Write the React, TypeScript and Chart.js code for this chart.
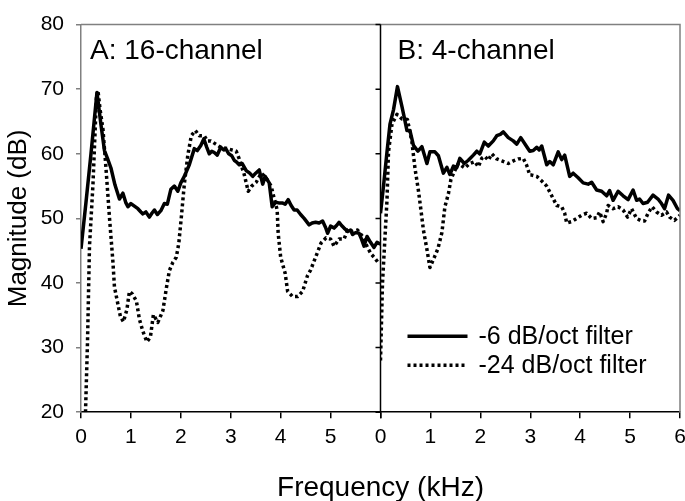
import React, { useEffect, useRef } from 'react';
import { Chart, registerables } from 'chart.js';

Chart.register(...registerables);

const FONT = '"Liberation Sans", Arial, Helvetica, sans-serif';

const xTitle = 'Frequency (kHz)';
const yTitle = 'Magnitude (dB)';
const panelALabel = 'A: 16-channel';
const panelBLabel = 'B: 4-channel';
const seriesNames = ['-6 dB/oct filter', '-24 dB/oct filter'];

// Panel A (16-channel), -6 dB/oct
const freqA6 = [0, 0.1, 0.2, 0.32, 0.4, 0.47, 0.53, 0.6, 0.68, 0.77, 0.84, 0.9, 0.94, 1.0, 1.07, 1.14, 1.2, 1.24, 1.3, 1.37, 1.42, 1.47, 1.53, 1.6, 1.67, 1.73, 1.8, 1.87, 1.94, 2.0, 2.07, 2.17, 2.27, 2.33, 2.4, 2.46, 2.52, 2.57, 2.62, 2.67, 2.73, 2.8, 2.86, 2.9, 2.96, 3.02, 3.07, 3.12, 3.17, 3.23, 3.31, 3.38, 3.44, 3.5, 3.57, 3.64, 3.69, 3.77, 3.83, 3.9, 3.96, 4.03, 4.09, 4.15, 4.21, 4.27, 4.33, 4.4, 4.47, 4.57, 4.63, 4.7, 4.77, 4.84, 4.9, 4.94, 5.0, 5.07, 5.12, 5.17, 5.22, 5.27, 5.34, 5.4, 5.44, 5.5, 5.57, 5.62, 5.67, 5.73, 5.8, 5.87, 5.93, 6.0];
const magA6 = [45.3, 52.5, 60.0, 69.5, 64.5, 60.5, 59.3, 57.8, 55.2, 53.0, 53.9, 52.4, 51.8, 52.3, 51.9, 51.5, 51.0, 50.7, 51.0, 50.2, 50.8, 51.3, 50.6, 51.2, 52.3, 52.2, 54.5, 55.0, 54.2, 55.5, 56.5, 58.3, 60.8, 60.5, 61.3, 62.3, 61.0, 60.0, 60.4, 60.2, 59.8, 61.0, 60.6, 60.8, 60.0, 59.7, 59.0, 58.7, 58.3, 58.5, 57.4, 57.0, 56.5, 57.0, 57.5, 55.3, 56.5, 55.5, 51.8, 52.5, 52.4, 52.4, 52.2, 52.9, 52.0, 51.3, 51.3, 50.6, 50.0, 49.0, 49.3, 49.4, 49.3, 49.6, 48.6, 47.7, 48.8, 48.5, 48.9, 49.4, 48.9, 48.5, 48.0, 48.2, 47.5, 47.8, 47.7, 46.8, 45.7, 47.2, 46.3, 45.5, 46.3, 46.0];

// Panel A (16-channel), -24 dB/oct
const freqA24 = [0.09, 0.13, 0.17, 0.24, 0.31, 0.34, 0.38, 0.44, 0.5, 0.57, 0.64, 0.67, 0.74, 0.79, 0.85, 0.92, 0.97, 1.03, 1.11, 1.17, 1.24, 1.32, 1.39, 1.45, 1.54, 1.64, 1.71, 1.77, 1.84, 1.91, 1.96, 2.01, 2.07, 2.14, 2.21, 2.29, 2.37, 2.47, 2.53, 2.6, 2.7, 2.8, 2.93, 3.02, 3.11, 3.17, 3.27, 3.35, 3.42, 3.51, 3.61, 3.68, 3.73, 3.81, 3.86, 3.93, 3.95, 4.0, 4.09, 4.14, 4.24, 4.34, 4.44, 4.54, 4.6, 4.71, 4.81, 4.91, 5.0, 5.07, 5.17, 5.27, 5.34, 5.44, 5.54, 5.64, 5.74, 5.81, 5.87, 5.97];
const magA24 = [20.0, 30.8, 45.7, 55.3, 68.8, 69.8, 67.0, 63.8, 57.8, 50.2, 43.2, 39.4, 36.7, 34.8, 34.0, 35.9, 38.7, 38.3, 37.2, 34.4, 32.5, 30.9, 31.6, 35.1, 33.9, 35.7, 39.2, 41.9, 43.2, 44.0, 46.2, 50.2, 55.3, 59.8, 62.8, 63.6, 62.8, 62.8, 62.0, 62.0, 61.5, 61.0, 60.8, 60.6, 60.4, 59.2, 56.8, 54.2, 55.0, 55.6, 57.0, 56.5, 56.0, 55.0, 53.4, 51.3, 47.7, 44.0, 41.5, 38.7, 37.9, 37.9, 38.7, 41.2, 42.0, 44.2, 46.2, 47.0, 46.8, 45.7, 46.8, 46.8, 48.2, 48.0, 48.2, 47.2, 45.5, 44.5, 44.0, 43.0];

// Panel B (4-channel), -6 dB/oct
const freqB6 = [0, 0.06, 0.13, 0.19, 0.26, 0.34, 0.43, 0.48, 0.53, 0.59, 0.66, 0.75, 0.83, 0.93, 0.99, 1.09, 1.16, 1.26, 1.33, 1.39, 1.46, 1.53, 1.59, 1.68, 1.76, 1.86, 1.93, 1.99, 2.08, 2.16, 2.26, 2.33, 2.4, 2.46, 2.56, 2.66, 2.73, 2.81, 2.93, 2.99, 3.06, 3.13, 3.18, 3.23, 3.33, 3.39, 3.46, 3.56, 3.63, 3.69, 3.79, 3.86, 3.96, 4.06, 4.16, 4.23, 4.33, 4.43, 4.53, 4.59, 4.66, 4.76, 4.86, 4.96, 5.06, 5.13, 5.19, 5.26, 5.35, 5.46, 5.56, 5.63, 5.69, 5.77, 5.86, 5.95, 6.0];
const magB6 = [50.8, 55.0, 60.3, 64.6, 66.8, 70.4, 67.3, 65.5, 63.6, 63.6, 61.3, 60.4, 61.1, 58.5, 60.3, 60.3, 59.7, 57.0, 57.9, 56.8, 58.1, 57.9, 59.3, 58.5, 59.0, 59.8, 60.4, 60.0, 61.8, 61.2, 62.0, 62.8, 63.0, 63.4, 62.5, 62.0, 61.5, 62.5, 61.1, 60.4, 60.5, 61.0, 60.6, 61.2, 58.3, 58.8, 58.3, 60.3, 59.1, 59.8, 56.5, 57.0, 56.3, 55.5, 55.3, 55.6, 54.4, 54.2, 53.5, 54.3, 52.8, 54.2, 53.5, 52.9, 54.4, 52.8, 53.0, 52.3, 52.5, 53.6, 53.0, 52.3, 51.5, 53.6, 52.8, 51.5, 51.2];

// Panel B (4-channel), -24 dB/oct
const freqB24 = [0, 0.04, 0.13, 0.16, 0.23, 0.33, 0.43, 0.54, 0.63, 0.69, 0.76, 0.81, 0.86, 0.93, 0.99, 1.08, 1.15, 1.23, 1.29, 1.36, 1.41, 1.47, 1.56, 1.69, 1.79, 1.89, 1.96, 2.03, 2.09, 2.16, 2.23, 2.33, 2.43, 2.56, 2.66, 2.76, 2.86, 2.93, 2.99, 3.03, 3.13, 3.23, 3.33, 3.43, 3.53, 3.63, 3.69, 3.73, 3.83, 3.93, 4.03, 4.13, 4.23, 4.33, 4.39, 4.46, 4.53, 4.56, 4.66, 4.76, 4.86, 4.95, 5.03, 5.13, 5.23, 5.29, 5.36, 5.44, 5.53, 5.63, 5.73, 5.79, 5.89, 5.96, 6.0];
const magB24 = [28.0, 40.0, 52.8, 60.3, 64.6, 66.1, 65.4, 65.3, 61.8, 57.8, 54.3, 51.3, 48.2, 45.2, 42.4, 44.0, 45.3, 47.8, 51.8, 53.8, 56.0, 57.1, 58.5, 57.8, 58.5, 58.8, 58.0, 59.3, 59.6, 59.0, 60.0, 59.2, 58.9, 58.5, 58.9, 59.2, 59.3, 58.2, 56.7, 56.7, 56.5, 55.8, 55.0, 53.5, 52.0, 51.8, 50.8, 49.3, 49.5, 50.0, 50.5, 50.8, 50.0, 50.1, 51.0, 49.5, 50.8, 52.0, 51.5, 51.8, 51.3, 50.2, 51.5, 50.0, 49.6, 49.6, 50.8, 51.8, 51.0, 50.5, 51.0, 50.2, 49.7, 50.2, 50.5];

const toPoints = (xs: number[], ys: number[]) => xs.map((x, i) => ({ x, y: ys[i] }));

const SOLID = { borderColor: '#000', borderWidth: 3.5, borderDash: [] as number[] };
const DOTTED = { borderColor: '#000', borderWidth: 3.5, borderDash: [3, 3] };

const panelPlugin = {
  id: 'panelDecor',
  afterDraw(chart: any) {
    const { ctx, chartArea } = chart;
    const xA = chart.scales.xA;
    const xB = chart.scales.xB;
    const y = chart.scales.y;
    const top = chartArea.top;
    const bottom = chartArea.bottom;
    ctx.save();
    // frame (top and right)
    ctx.strokeStyle = '#808080';
    ctx.lineWidth = 1.5;
    ctx.beginPath();
    ctx.moveTo(xA.left, top);
    ctx.lineTo(xB.right, top);
    ctx.lineTo(xB.right, bottom);
    ctx.stroke();
    // divider between panels with outward ticks
    ctx.strokeStyle = '#000';
    ctx.lineWidth = 1.5;
    ctx.beginPath();
    ctx.moveTo(xB.left, top);
    ctx.lineTo(xB.left, bottom);
    y.ticks.forEach((t: any) => {
      const py = y.getPixelForValue(t.value);
      ctx.moveTo(xB.left - 5, py);
      ctx.lineTo(xB.left, py);
    });
    ctx.stroke();
    // panel labels
    ctx.fillStyle = '#000';
    ctx.font = `28px ${FONT}`;
    ctx.textBaseline = 'alphabetic';
    ctx.textAlign = 'left';
    ctx.fillText(panelALabel, xA.left + 9, top + 34);
    ctx.fillText(panelBLabel, xB.left + 17, top + 34);
    // legend
    const styles = [SOLID, DOTTED];
    const rows = [bottom - 76, bottom - 47];
    ctx.font = `25px ${FONT}`;
    ctx.textBaseline = 'middle';
    styles.forEach((s, i) => {
      ctx.strokeStyle = s.borderColor;
      ctx.lineWidth = s.borderWidth;
      ctx.setLineDash(s.borderDash);
      ctx.beginPath();
      ctx.moveTo(xB.left + 27, rows[i]);
      ctx.lineTo(xB.left + 87, rows[i]);
      ctx.stroke();
      ctx.setLineDash([]);
      ctx.fillText(seriesNames[i], xB.left + 98, rows[i] + 1);
    });
    ctx.restore();
  },
};

export default function App() {
  const ref = useRef<HTMLCanvasElement | null>(null);
  useEffect(() => {
    if (!ref.current) return;
    const xScale = (showLast: boolean) => ({
      type: 'linear' as const,
      position: 'bottom' as const,
      stack: 'x',
      min: 0,
      max: 6,
      ticks: {
        stepSize: 1,
        autoSkip: false,
        maxRotation: 0,
        color: '#000',
        padding: 6,
        font: { family: FONT, size: 21 },
        callback: (v: any) => (!showLast && v === 6 ? '' : String(v)),
      },
      grid: { drawOnChartArea: false, drawTicks: true, tickLength: 6, color: '#000', lineWidth: 1.5 },
      border: { display: true, color: '#000', width: 1.5 },
      afterFit: (s: any) => { s.paddingRight = 0; s.paddingLeft = 0; },
    });
    const lineCommon = { pointRadius: 0, fill: false, tension: 0, borderJoinStyle: 'round' as const };
    const chart = new Chart(ref.current, {
      type: 'line',
      data: {
        datasets: [
          { label: seriesNames[0], data: toPoints(freqA6, magA6), xAxisID: 'xA', yAxisID: 'y', ...SOLID, ...lineCommon },
          { label: seriesNames[1], data: toPoints(freqA24, magA24), xAxisID: 'xA', yAxisID: 'y', ...DOTTED, ...lineCommon },
          { label: seriesNames[0], data: toPoints(freqB6, magB6), xAxisID: 'xB', yAxisID: 'y', ...SOLID, ...lineCommon },
          { label: seriesNames[1], data: toPoints(freqB24, magB24), xAxisID: 'xB', yAxisID: 'y', ...DOTTED, ...lineCommon },
        ],
      },
      options: {
        animation: false,
        responsive: false,
        devicePixelRatio: 1,
        layout: { padding: { top: 13, right: 5, bottom: 0, left: 0 } },
        scales: {
          xA: xScale(false),
          xB: xScale(true),
          y: {
            type: 'linear',
            position: 'left',
            min: 20,
            max: 80,
            ticks: { stepSize: 10, color: '#000', padding: 12, font: { family: FONT, size: 21 } },
            grid: { drawOnChartArea: false, drawTicks: true, tickLength: 5, color: '#808080', lineWidth: 1.5 },
            border: { display: true, color: '#808080', width: 1.5 },
            title: { display: true, text: yTitle, color: '#000', font: { family: FONT, size: 26 }, padding: { top: 3, bottom: 6 } },
            afterFit: (s: any) => { s.width = 81; },
          } as any,
        },
        plugins: {
          legend: { display: false },
          tooltip: { enabled: false },
          title: {
            display: true,
            position: 'bottom',
            text: xTitle,
            fullSize: false,
            color: '#000',
            font: { family: FONT, size: 28, weight: 'normal' },
            padding: { top: 16, bottom: -4 },
          },
        },
      } as any,
      plugins: [panelPlugin],
    });
    return () => chart.destroy();
  }, []);
  return (
    <div style={{ position: 'absolute', left: 0, top: 0, width: 685, height: 501, background: '#fff' }}>
      <canvas ref={ref} width={685} height={501} style={{ display: 'block' }} />
    </div>
  );
}
